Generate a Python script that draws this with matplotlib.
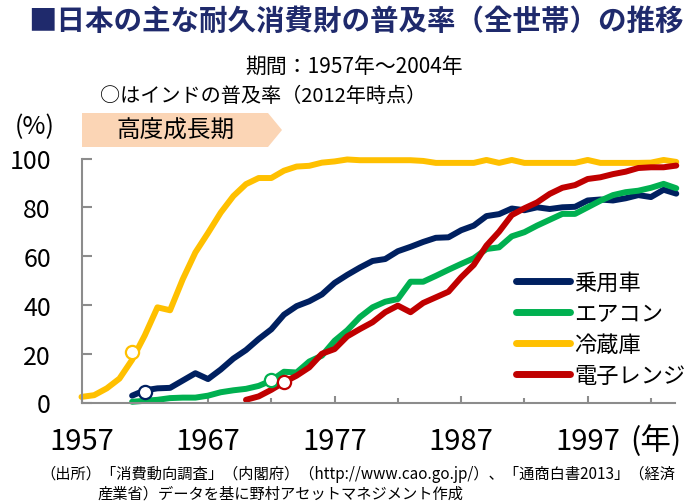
import matplotlib
matplotlib.use("Agg")
import matplotlib.pyplot as plt
from matplotlib.patches import Polygon
from matplotlib.lines import Line2D

plt.rcParams['font.family'] = ['Noto Sans CJK JP', 'DejaVu Sans']

# ---- data ----
years_fridge = list(range(1957, 2005))
fridge = [2.3, 3.0, 5.8, 9.8, 17.5, 27.5, 39.0, 37.8, 50.5, 61.5,
          69.5, 77.8, 84.6, 89.5, 92.0, 92.0, 95.0, 96.7, 97.0, 98.3,
          98.8, 99.6, 99.3, 99.3, 99.3, 99.3, 99.3, 99.0, 98.2, 98.2,
          98.2, 98.2, 99.4, 98.2, 99.4, 98.2, 98.2, 98.2, 98.2, 98.2,
          99.4, 98.2, 98.2, 98.2, 98.2, 98.3, 99.4, 98.6]

years_car = list(range(1961, 2005))
car = [2.8, 5.0, 5.8, 6.0, 9.0, 12.0, 9.6, 13.5, 18.0, 21.5,
       26.0, 30.0, 36.0, 39.5, 41.5, 44.3, 49.0, 52.3, 55.3, 58.0,
       58.8, 62.0, 63.8, 65.8, 67.5, 67.7, 70.6, 72.5, 76.4, 77.2,
       79.5, 78.8, 80.0, 79.3, 80.0, 80.2, 82.8, 83.2, 82.8, 83.7,
       85.0, 84.2, 87.2, 85.6]

years_ac = list(range(1961, 2005))
aircon = [0.3, 0.7, 1.1, 1.8, 2.0, 2.0, 2.8, 4.2, 5.0, 5.6,
          6.8, 9.0, 12.6, 12.3, 16.8, 19.2, 25.3, 29.6, 35.0, 39.0,
          41.3, 42.4, 49.5, 49.5, 51.9, 54.4, 56.8, 59.1, 62.9, 63.6,
          68.1, 69.8, 72.5, 74.9, 77.3, 77.3, 80.0, 82.7, 85.0, 86.2,
          86.8, 88.0, 89.6, 87.8]

years_mw = list(range(1970, 2005))
microwave = [1.1, 2.5, 5.2, 8.3, 11.0, 14.4, 20.0, 21.9, 27.1, 30.1,
             32.9, 37.0, 39.7, 37.0, 40.8, 43.1, 45.4, 51.3, 56.4, 64.3,
             70.0, 76.8, 79.6, 82.0, 85.5, 88.0, 89.1, 91.6, 92.3, 93.6,
             94.6, 96.1, 96.4, 96.4, 97.1]

# India 2012 levels (placed on Japan's timeline)
india_car = (1962, 4.3)
india_ac = (1972, 9.2)
india_fridge = (1961, 20.5)
india_mw = (1973, 8.3)

labels = ['乗用車', 'エアコン', '冷蔵庫', '電子レンジ']
colors = ['#002060', '#00B050', '#FFC000', '#C00000']
xtick_labels = ['1957', '1967', '1977', '1987', '1997']
yticks = [0, 20, 40, 60, 80, 100]

W, H = 693, 502
fig = plt.figure(figsize=(W / 100, H / 100), dpi=100)
ax = fig.add_axes([81.5 / W, 1 - 403.5 / H, (675 - 81.5) / W, (403.5 - 159.5) / H])

lw = 4.3
series = [(years_car, car), (years_ac, aircon), (years_fridge, fridge), (years_mw, microwave)]
indias = [india_car, india_ac, india_fridge, india_mw]
for (xs, ys), c in zip(series, colors):
    ax.plot(xs, ys, color=c, lw=lw, solid_capstyle='round', solid_joinstyle='round',
            clip_on=False)
for (x, y), c in zip(indias, colors):
    ax.plot([x], [y], marker='o', ms=9.5, mfc='white', mec=c, mew=1.6,
            linestyle='none', clip_on=False, zorder=5)

ax.set_xlim(1957, 2003.9)
ax.set_ylim(0, 100)
for s in ['top', 'right']:
    ax.spines[s].set_visible(False)
for s in ['left', 'bottom']:
    ax.spines[s].set_color('#8C8C8C')
    ax.spines[s].set_linewidth(1.5)

ax.set_yticks(yticks)
ax.set_yticklabels([str(v) for v in yticks])
ax.tick_params(axis='y', direction='in', length=7, width=1.5, color='#8C8C8C',
               pad=22, labelsize=18)
major_x = [1957, 1967, 1977, 1987, 1997]
ax.set_xticks(major_x)
ax.set_xticklabels(xtick_labels)
ax.set_xticks([1962, 1972, 1982, 1992, 2002], minor=True)
ax.tick_params(axis='x', which='major', direction='in', length=5, width=1.5,
               color='#8C8C8C', pad=17, labelsize=21)
ax.tick_params(axis='x', which='minor', direction='in', length=3.5, width=1.5,
               color='#8C8C8C')

# legend
handles = [Line2D([0], [0], color=c, lw=5, solid_capstyle='round') for c in colors]
leg = fig.legend(handles, labels, loc='upper left',
                 bbox_to_anchor=(516 / W, 1 - 272 / H), bbox_transform=fig.transFigure,
                 frameon=False, fontsize=16, handlelength=2.45, handletextpad=0.15,
                 labelspacing=0.36, borderpad=0, borderaxespad=0)

# title and notes
fig.text(28 / W, 1 - 22 / H, '■日本の主な耐久消費財の普及率（全世帯）の推移',
         fontsize=20.5, fontweight='bold', color='#1F2A6C', va='center', ha='left')
fig.text(354 / W, 1 - 67 / H, '期間：1957年～2004年', fontsize=15, ha='center', va='center')
fig.text(100 / W, 1 - 96 / H, '○はインドの普及率（2012年時点）', fontsize=14.5, ha='left', va='center')
fig.text(35 / W, 1 - 127 / H, '(%)', fontsize=18, ha='center', va='center')
fig.text(656 / W, 1 - 441 / H, '(年)', fontsize=22, ha='center', va='center')

# banner arrow
pts = [(82, 114), (268, 114), (282, 131), (268, 148), (82, 148)]
poly = Polygon([(x / W, 1 - y / H) for x, y in pts], closed=True,
               transform=fig.transFigure, facecolor='#FBD5B5', edgecolor='none')
fig.patches.append(poly)
fig.text(176 / W, 1 - 131 / H, '高度成長期', fontsize=17, ha='center', va='center')

fig.text(40 / W, 1 - 474 / H,
         '（出所）「消費動向調査」（内閣府）（http://www.cao.go.jp/）、「通商白書2013」（経済',
         fontsize=11, ha='left', va='center')
fig.text(97 / W, 1 - 494 / H, '産業省）データを基に野村アセットマネジメント作成',
         fontsize=11, ha='left', va='center')

fig.savefig('out.png', dpi=100)
